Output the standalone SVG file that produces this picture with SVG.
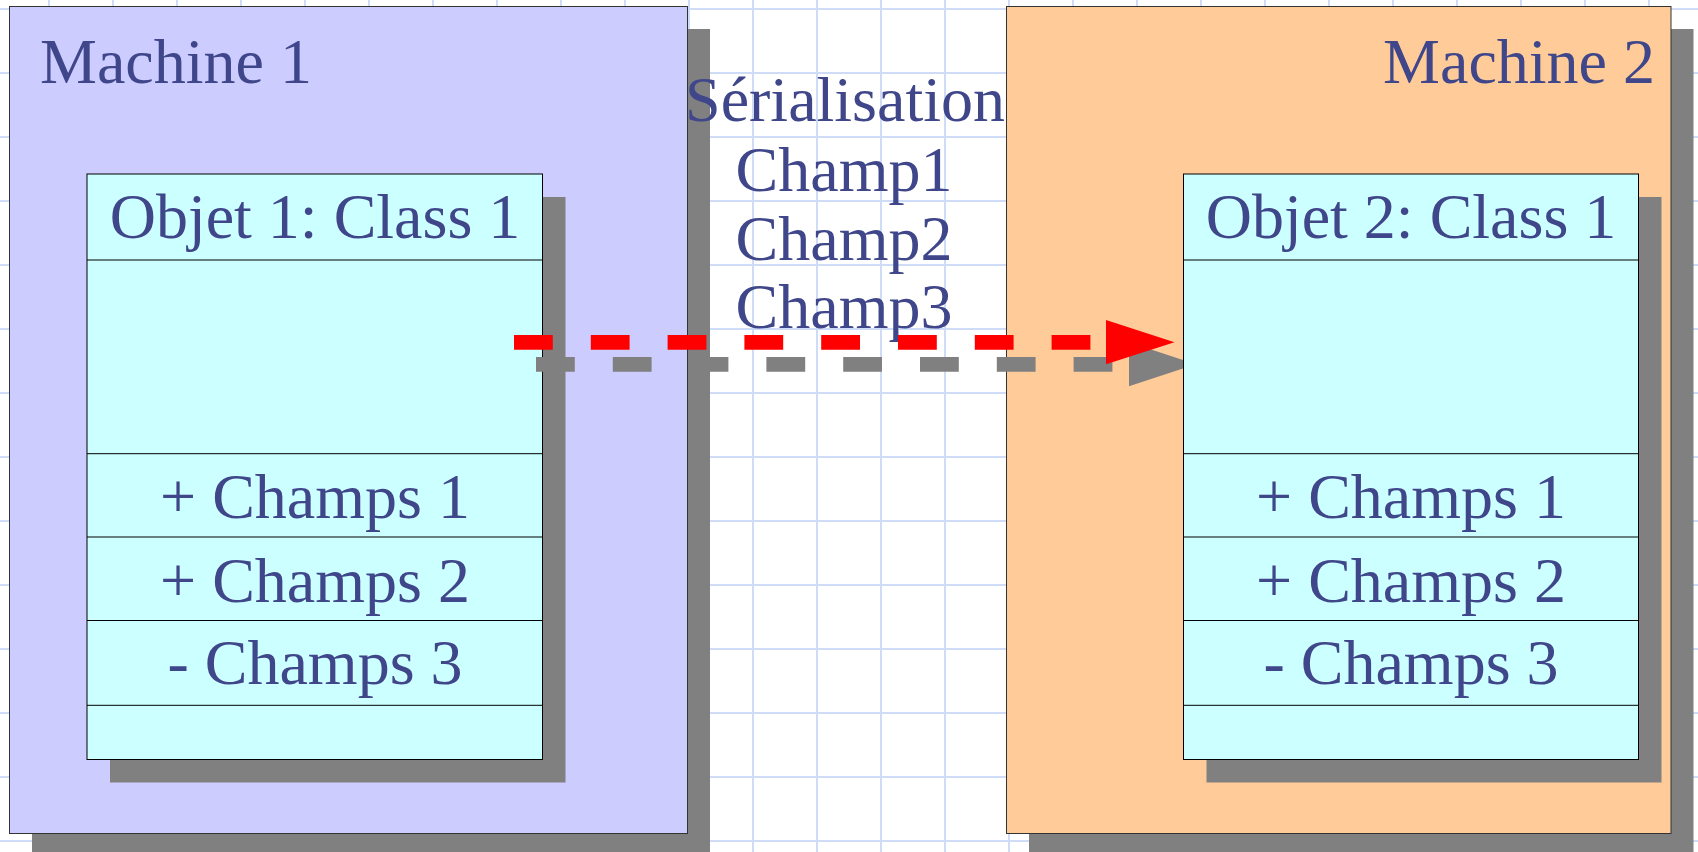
<svg xmlns="http://www.w3.org/2000/svg" width="1698" height="852" viewBox="0 0 1698 852">
<defs>
<style>
.grid line{stroke:#cfdcf8;stroke-width:2}
.shadow{fill:#808080}
.m1{fill:#ccccff;stroke:#333;stroke-width:1}
.m2{fill:#ffcc99;stroke:#333;stroke-width:1}
.obj{fill:#ccffff;stroke:#000;stroke-width:1}
.sep{stroke:#000;stroke-width:1}
text{font-family:"Liberation Serif","Times New Roman",serif;font-size:64px;fill:#3f468a}
.c{text-anchor:middle}
</style>
</defs>
<rect width="1698" height="852" fill="#fff"/>
<g class="grid" id="grid">
<line x1="49" y1="0" x2="49" y2="852"/><line x1="113" y1="0" x2="113" y2="852"/><line x1="177" y1="0" x2="177" y2="852"/><line x1="241" y1="0" x2="241" y2="852"/><line x1="305" y1="0" x2="305" y2="852"/><line x1="369" y1="0" x2="369" y2="852"/><line x1="433" y1="0" x2="433" y2="852"/><line x1="497" y1="0" x2="497" y2="852"/><line x1="561" y1="0" x2="561" y2="852"/><line x1="625" y1="0" x2="625" y2="852"/><line x1="689" y1="0" x2="689" y2="852"/><line x1="753" y1="0" x2="753" y2="852"/><line x1="817" y1="0" x2="817" y2="852"/><line x1="881" y1="0" x2="881" y2="852"/><line x1="945" y1="0" x2="945" y2="852"/><line x1="1009" y1="0" x2="1009" y2="852"/><line x1="1073" y1="0" x2="1073" y2="852"/><line x1="1137" y1="0" x2="1137" y2="852"/><line x1="1201" y1="0" x2="1201" y2="852"/><line x1="1265" y1="0" x2="1265" y2="852"/><line x1="1329" y1="0" x2="1329" y2="852"/><line x1="1393" y1="0" x2="1393" y2="852"/><line x1="1457" y1="0" x2="1457" y2="852"/><line x1="1521" y1="0" x2="1521" y2="852"/><line x1="1585" y1="0" x2="1585" y2="852"/><line x1="1649" y1="0" x2="1649" y2="852"/>
<line x1="0" y1="9" x2="1698" y2="9"/><line x1="0" y1="73" x2="1698" y2="73"/><line x1="0" y1="137" x2="1698" y2="137"/><line x1="0" y1="201" x2="1698" y2="201"/><line x1="0" y1="265" x2="1698" y2="265"/><line x1="0" y1="329" x2="1698" y2="329"/><line x1="0" y1="393" x2="1698" y2="393"/><line x1="0" y1="457" x2="1698" y2="457"/><line x1="0" y1="521" x2="1698" y2="521"/><line x1="0" y1="585" x2="1698" y2="585"/><line x1="0" y1="649" x2="1698" y2="649"/><line x1="0" y1="713" x2="1698" y2="713"/><line x1="0" y1="777" x2="1698" y2="777"/><line x1="0" y1="841" x2="1698" y2="841"/>
</g>
<g id="machine1">
<rect class="shadow" x="32" y="29" width="678" height="827"/>
<rect class="m1" x="9.5" y="6.5" width="678" height="827"/>
<text x="40" y="82.5">Machine 1</text>
</g>
<g id="machine2">
<rect class="shadow" x="1029" y="29" width="664.5" height="827"/>
<rect class="m2" x="1006.5" y="6.5" width="664.5" height="827"/>
<text x="1655" y="82.5" text-anchor="end">Machine 2</text>
</g>
<g id="objet1">
<rect class="shadow" x="110" y="197" width="455.5" height="585.5"/>
<rect class="obj" x="87" y="174" width="455.5" height="585.5"/>
<line class="sep" x1="87" y1="260" x2="542.5" y2="260"/>
<line class="sep" x1="87" y1="453.7" x2="542.5" y2="453.7"/>
<line class="sep" x1="87" y1="537" x2="542.5" y2="537"/>
<line class="sep" x1="87" y1="620.5" x2="542.5" y2="620.5"/>
<line class="sep" x1="87" y1="705.3" x2="542.5" y2="705.3"/>
<text class="c" x="315" y="238.3">Objet 1: Class 1</text>
<text class="c" x="315" y="518.3">+ Champs 1</text>
<text class="c" x="315" y="601.7">+ Champs 2</text>
<text class="c" x="315" y="684.3">- Champs 3</text>
</g>
<g id="objet2">
<rect class="shadow" x="1206.5" y="197" width="455" height="585.5"/>
<rect class="obj" x="1183.5" y="174" width="455" height="585.5"/>
<line class="sep" x1="1183.5" y1="260" x2="1638.5" y2="260"/>
<line class="sep" x1="1183.5" y1="453.7" x2="1638.5" y2="453.7"/>
<line class="sep" x1="1183.5" y1="537" x2="1638.5" y2="537"/>
<line class="sep" x1="1183.5" y1="620.5" x2="1638.5" y2="620.5"/>
<line class="sep" x1="1183.5" y1="705.3" x2="1638.5" y2="705.3"/>
<text class="c" x="1411" y="238.3">Objet 2: Class 1</text>
<text class="c" x="1411" y="518.3">+ Champs 1</text>
<text class="c" x="1411" y="601.7">+ Champs 2</text>
<text class="c" x="1411" y="684.3">- Champs 3</text>
</g>
<g id="label-serialisation">
<text class="c" x="845" y="120.7">Sérialisation</text>
<text class="c" x="844" y="190.5">Champ1</text>
<text class="c" x="844" y="259.8">Champ2</text>
<text class="c" x="844" y="328.3">Champ3</text>
</g>
<g id="connectors">
<line x1="536" y1="364.3" x2="1128" y2="364.3" stroke="#808080" stroke-width="14.7" stroke-dasharray="38.8 38"/>
<polygon points="1129,342.3 1183,360 1183,368.6 1129,386.3" fill="#808080"/>
<line x1="514" y1="342.3" x2="1106" y2="342.3" stroke="#ff0000" stroke-width="14.7" stroke-dasharray="38.8 38"/>
<polygon points="1106,320 1174.5,342.3 1106,364.3" fill="#ff0000"/>
</g>
</svg>
